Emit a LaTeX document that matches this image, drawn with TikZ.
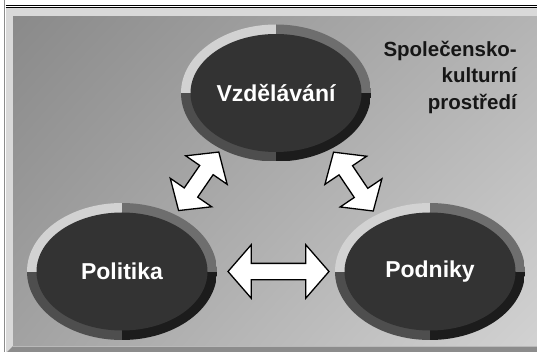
\documentclass[tikz,border=0pt]{standalone}
\usepackage{fontspec}
\setmainfont{Liberation Sans}
\usetikzlibrary{shapes.geometric,shapes.arrows,shadings}
\definecolor{faceUL}{HTML}{8A8A8A}
\definecolor{faceUR}{HTML}{B4B4B4}
\definecolor{faceLL}{HTML}{A2A2A2}
\definecolor{faceLR}{HTML}{D2D2D2}
\definecolor{frameC}{HTML}{D9D9D9}
\definecolor{bevelD}{HTML}{8C8C8C}
\definecolor{ringTL}{HTML}{D2D2D2}
\definecolor{ringTR}{HTML}{6E6E6E}
\definecolor{ringBL}{HTML}{4E4E4E}
\definecolor{ringBR}{HTML}{1C1C1C}
\definecolor{coreC}{HTML}{333333}
\definecolor{labelC}{HTML}{161616}
\tikzset{
  ringnode/.style={ellipse, minimum width=190pt, minimum height=137pt, inner sep=0pt, outer sep=0pt,
    text=white, font=\fontsize{23}{27}\selectfont\bfseries,
    path picture={
      \fill[ringTL] (path picture bounding box.center) rectangle (path picture bounding box.north west);
      \fill[ringTR] (path picture bounding box.center) rectangle (path picture bounding box.north east);
      \fill[ringBL] (path picture bounding box.center) rectangle (path picture bounding box.south west);
      \fill[ringBR] (path picture bounding box.center) rectangle (path picture bounding box.south east);
      \fill[coreC] (path picture bounding box.center) ellipse [x radius=85.5pt, y radius=59pt];
    }},
  dblarrow/.style={double arrow, draw=black, line width=1.3pt, fill=white, inner xsep=0pt,
    inner ysep=7.5pt, double arrow tip angle=98, outer sep=0pt},
  envlabel/.style={align=right, inner sep=0pt, text=labelC, font=\fontsize{20.5}{26.5}\selectfont\bfseries}
}
\begin{document}
\begin{tikzpicture}[x=1pt,y=-1pt]
\useasboundingbox (0,0) rectangle (537,352);
\fill[white] (0,0) rectangle (537,352);
% outer frame
\fill[frameC] (5.5,7.6) rectangle (537,352);
\draw[black, line width=0.9pt] (5.5,5.1) -- (537,5.1);
\draw[black, line width=0.9pt] (5.5,7.0) -- (537,7.0);
\draw[bevelD, line width=1.5pt] (4.7,0) -- (4.7,352);
% face
\shade[upper left=faceUL, upper right=faceUR, lower left=faceLL, lower right=faceLR]
  (13,16.8) rectangle (537,345.5);
\fill[bevelD] (6,353) -- (13,346) -- (537,346) -- (537,353) -- cycle;
\draw[gray!55, line width=0.6pt] (13,346.2) -- (537,346.2);
% nodes
\node[ringnode] (V) at (276,93) {Vzdělávání};
\node[ringnode] (P) at (122,271.5) {Politika};
\node[ringnode] (D) at (430,271.5) {Podniky};
% label
\node[envlabel, anchor=north east] (E) at (517,40.5) {Společensko-\\kulturní\\prostředí};
% arrows
\node[dblarrow, minimum height=101pt, double arrow head extend=18.5pt] (PD) at (278.5,271.5) {};
\node[dblarrow, minimum height=71pt, double arrow head extend=17pt, rotate=55.5] (PV) at (198.7,181.3) {};
\node[dblarrow, minimum height=71pt, double arrow head extend=17pt, rotate=-56] (VD) at (353.4,181.6) {};
\end{tikzpicture}
\end{document}
